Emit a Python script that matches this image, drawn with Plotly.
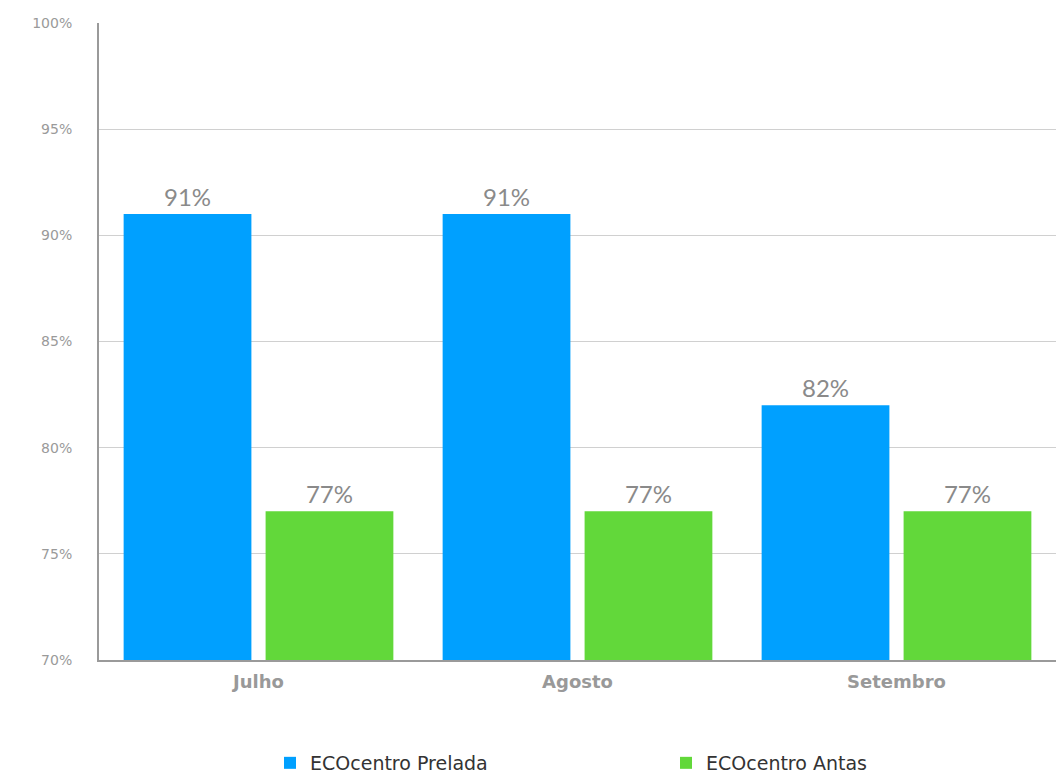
import plotly.graph_objects as go

months = ["Julho", "Agosto", "Setembro"]
prelada = [91, 91, 82]
antas = [77, 77, 77]
y_ticks = [70, 75, 80, 85, 90, 95, 100]

FONT = "Lato"
WIDE = "DejaVu Sans"

fig = go.Figure()
fig.add_trace(go.Bar(
    x=months, y=prelada, name="ECOcentro Prelada",
    marker=dict(color="#00A0FF", line=dict(width=0)),
    text=[f"{v}%" for v in prelada], textposition="outside",
    textfont=dict(size=24, color="#8A8A8A", family=FONT),
    cliponaxis=False, legend="legend",
))
fig.add_trace(go.Bar(
    x=months, y=antas, name="ECOcentro Antas",
    marker=dict(color="#62D83A", line=dict(width=0)),
    text=[f"{v}%" for v in antas], textposition="outside",
    textfont=dict(size=24, color="#8A8A8A", family=FONT),
    cliponaxis=False, legend="legend2",
))

legend_common = dict(
    orientation="h", yref="container", yanchor="middle", y=0.0193,
    xref="container", xanchor="left",
    font=dict(size=19, color="#333333", family=WIDE),
    bgcolor="rgba(0,0,0,0)",
)

fig.update_layout(
    width=1056, height=778,
    margin=dict(l=99, r=0, t=23, b=118, autoexpand=False),
    paper_bgcolor="white", plot_bgcolor="white",
    barmode="group", bargap=0.11, bargroupgap=0.1,
    font=dict(family=FONT, color="#888888"),
    showlegend=True,
    legend=dict(x=0.2557, **legend_common),
    legend2=dict(x=0.6307, **legend_common),
)
fig.update_yaxes(
    range=[70, 100], tickvals=y_ticks,
    ticktext=[f"{v}%" for v in y_ticks],
    tickfont=dict(size=14, color="#9A9A9A", family=WIDE),
    showgrid=True, gridcolor="#D0D0D0", gridwidth=1,
    showline=True, linecolor="#9A9A9A", linewidth=2,
    zeroline=False, ticks="", ticklabelstandoff=22, automargin=False,
)
fig.update_xaxes(
    showline=True, linecolor="#9A9A9A", linewidth=2,
    tickfont=dict(size=18, color="#999999", family=WIDE, weight="bold"),
    ticks="", ticklabelstandoff=4, automargin=False,
)

fig.write_html("out.html")
